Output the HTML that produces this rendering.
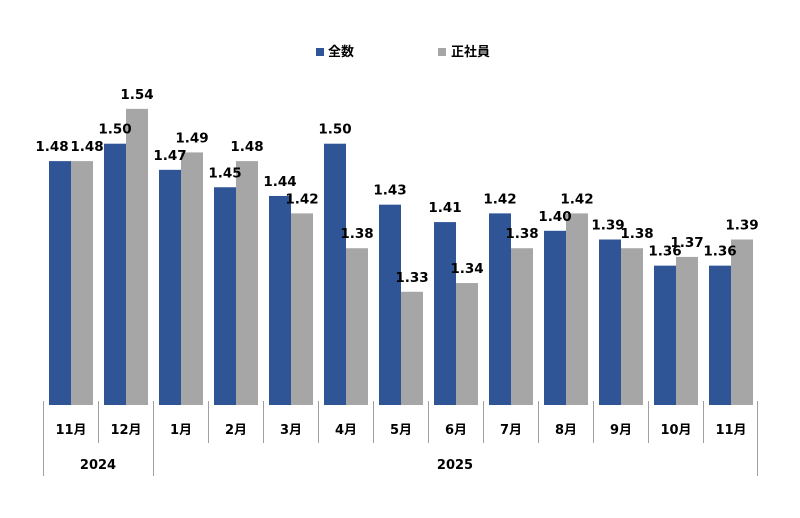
<!DOCTYPE html>
<html><head><meta charset="utf-8"><style>
body{margin:0;background:#fff;}
svg text{font-family:"DejaVu Sans","Noto Sans CJK JP",sans-serif;font-weight:bold;fill:#000;}
</style></head><body>
<svg width="800" height="513" xmlns="http://www.w3.org/2000/svg">
<rect width="800" height="513" fill="#fff"/>
<rect x="316" y="48" width="8" height="8" fill="#2f5597"/>
<text x="328" y="56" font-size="13">全数</text>
<rect x="438" y="48" width="8" height="8" fill="#a6a6a6"/>
<text x="451" y="56" font-size="13">正社員</text>
<g id="bars"></g>
<g stroke="#a0a0a0" stroke-width="1">
<line x1="43.5" y1="401" x2="43.5" y2="476"/>
<line x1="153.5" y1="401" x2="153.5" y2="476"/>
<line x1="757.5" y1="401" x2="757.5" y2="476"/>
<line x1="98.5" y1="401" x2="98.5" y2="443"/>
<line x1="208.5" y1="401" x2="208.5" y2="443"/>
<line x1="263.5" y1="401" x2="263.5" y2="443"/>
<line x1="318.5" y1="401" x2="318.5" y2="443"/>
<line x1="373.5" y1="401" x2="373.5" y2="443"/>
<line x1="428.5" y1="401" x2="428.5" y2="443"/>
<line x1="483.5" y1="401" x2="483.5" y2="443"/>
<line x1="538.5" y1="401" x2="538.5" y2="443"/>
<line x1="593.5" y1="401" x2="593.5" y2="443"/>
<line x1="648.5" y1="401" x2="648.5" y2="443"/>
<line x1="703.5" y1="401" x2="703.5" y2="443"/>
</g>
<text x="98" y="469" font-size="13" text-anchor="middle">2024</text>
<text x="455" y="469" font-size="13" text-anchor="middle">2025</text>
</svg>
<script>
var b=[1.48,1.50,1.47,1.45,1.44,1.50,1.43,1.41,1.42,1.40,1.39,1.36,1.36];
var g=[1.48,1.54,1.49,1.48,1.42,1.38,1.33,1.34,1.38,1.42,1.38,1.37,1.39];
var m=["11月","12月","1月","2月","3月","4月","5月","6月","7月","8月","9月","10月","11月"];
var db=[-8,0,0,0,0,0,0,0,0,0,-2,0,0], dg=[5,0,0,0,0,0,0,0,0,0,5,0,0];
var s="";
function y(v){return 405-(v-1.2)*871;}
for(var i=0;i<13;i++){
 var x=49+55*i;
 var yb=y(b[i]),yg=y(g[i]);
 s+='<rect x="'+x+'" y="'+yb+'" width="22" height="'+(405-yb)+'" fill="#2f5597"/>';
 s+='<rect x="'+(x+22)+'" y="'+yg+'" width="22" height="'+(405-yg)+'" fill="#a6a6a6"/>';
 s+='<text x="'+(x+11+db[i])+'" y="'+(yb-10)+'" font-size="13.5" text-anchor="middle">'+b[i].toFixed(2)+'</text>';
 s+='<text x="'+(x+33+dg[i])+'" y="'+(yg-10)+'" font-size="13.5" text-anchor="middle">'+g[i].toFixed(2)+'</text>';
 s+='<text x="'+(71+55*i)+'" y="434" font-size="13" text-anchor="middle">'+m[i]+'</text>';
}
document.getElementById("bars").innerHTML=s;
</script>
</body></html>
